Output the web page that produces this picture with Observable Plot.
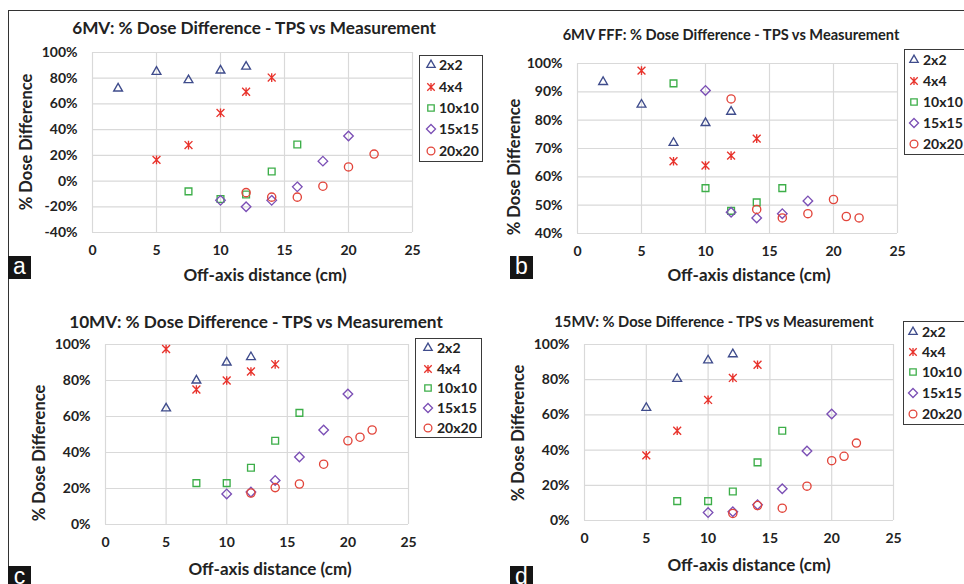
<!DOCTYPE html>
<html><head><meta charset="utf-8">
<script src="https://cdn.jsdelivr.net/npm/d3@7"></script>
<script src="https://cdn.jsdelivr.net/npm/@observablehq/plot@0.6"></script>
<style>
body{margin:0;background:#fff;}
#root{position:relative;width:964px;height:584px;overflow:hidden;background:#fff;font-family:Lato,"Open Sans",sans-serif;color:#222;}
.t{position:absolute;font-weight:700;white-space:nowrap;line-height:1;transform:translate(-50%,-50%);}
.yt{position:absolute;font-weight:700;white-space:nowrap;line-height:1;transform:translate(-50%,-50%) rotate(-90deg);}
.lab{position:absolute;width:23px;height:23px;background:#151515;color:#fff;font-family:"Liberation Sans",Arial,sans-serif;font-size:23px;line-height:21px;text-align:center;}
.leg{position:absolute;border:1.5px solid #3a3a3a;box-sizing:border-box;}
.lrow{position:absolute;font-weight:700;white-space:nowrap;line-height:1;transform:translateY(-50%);}
svg.plt{position:absolute;}
</style></head>
<body><div id="root"></div>
<script>
// ---------- data ----------
const seriesNames = ["2x2", "4x4", "10x10", "15x15", "20x20"];
const seriesColors = ["#3f4c8c", "#e8322b", "#3dae49", "#7b4fb5", "#e2453b"];
const xTicks = [0, 5, 10, 15, 20, 25];

const titleA = "6MV: % Dose Difference - TPS vs Measurement";
const titleB = "6MV FFF: % Dose Difference - TPS vs Measurement";
const titleC = "10MV: % Dose Difference - TPS vs Measurement";
const titleD = "15MV: % Dose Difference - TPS vs Measurement";
const xTitle = "Off-axis distance (cm)";
const yTitle = "% Dose Difference";

const yTicksA = [-40, -20, 0, 20, 40, 60, 80, 100];
const yTicksB = [40, 50, 60, 70, 80, 90, 100];
const yTicksC = [0, 20, 40, 60, 80, 100];
const yTicksD = [0, 20, 40, 60, 80, 100];

// Panel a: 6MV  ([off-axis cm, % diff])
const a2x2   = [[2,72],[5,85],[7.5,78.5],[10,86],[12,89]];
const a4x4   = [[5,16.5],[7.5,28],[10,53],[12,69.5],[14,80.5]];
const a10x10 = [[7.5,-8],[10,-14],[12,-10.5],[14,7.5],[16,28.5]];
const a15x15 = [[10,-15],[12,-20],[14,-15],[16,-4.5],[18,15.5],[20,35]];
const a20x20 = [[12,-9],[14,-12.5],[16,-12.5],[18,-4],[20,11],[22,21]];

// Panel b: 6MV FFF
const b2x2   = [[2,93.5],[5,85.5],[7.5,72],[10,79],[12,83]];
const b4x4   = [[5,97.5],[7.5,65.5],[10,64],[12,67.5],[14,73.5]];
const b10x10 = [[7.5,93],[10,56],[12,48],[14,51],[16,56]];
const b15x15 = [[10,90.5],[12,47.5],[14,45.5],[16,47],[18,51.5]];
const b20x20 = [[12,87.5],[14,48.5],[16,45.5],[18,47],[20,52],[21,46],[22,45.5]];

// Panel c: 10MV
const c2x2   = [[5,64.5],[7.5,80],[10,90],[12,93]];
const c4x4   = [[5,97.5],[7.5,75],[10,80],[12,85],[14,89]];
const c10x10 = [[7.5,23],[10,23],[12,31.5],[14,46.5],[16,62]];
const c15x15 = [[10,17],[12,18],[14,24.5],[16,37.5],[18,52.5],[20,72.5]];
const c20x20 = [[12,17.5],[14,20.5],[16,22.5],[18,33.5],[20,46.5],[21,48.5],[22,52.5]];

// Panel d: 15MV
const d2x2   = [[5,64],[7.5,80.5],[10,91],[12,94.5]];
const d4x4   = [[5,37],[7.5,51],[10,68.5],[12,81],[14,88.5]];
const d10x10 = [[7.5,11],[10,11],[12,16.5],[14,33],[16,51]];
const d15x15 = [[10,4.5],[12,5],[14,9],[16,18],[18,39.5],[20,60.5]];
const d20x20 = [[12,4],[14,8.5],[16,7],[18,19.5],[20,34],[21,36.5],[22,44]];

// ---------- symbols ----------
const starSymbol = {
  draw(ctx, size) {
    const r = Math.sqrt(size) * 0.6;
    ctx.moveTo(-r, -r); ctx.lineTo(r, r);
    ctx.moveTo(-r, r); ctx.lineTo(r, -r);
    ctx.moveTo(0, -r * 1.1); ctx.lineTo(0, r * 1.1);
  }
};
const symbols = [d3.symbolTriangle2, starSymbol, d3.symbolSquare2, d3.symbolDiamond2, d3.symbolCircle];
const radii = [4.2, 3.7, 4.3, 4.3, 4.1];

const root = document.getElementById("root");

// outer frame
const fr = document.createElement("div");
fr.style.cssText = "position:absolute;left:8px;top:10px;width:1000px;height:600px;border-left:1.5px solid #333;border-top:1.5px solid #333;";
root.appendChild(fr);

function addDiv(cls, text, css) {
  const d = document.createElement("div");
  d.className = cls; d.textContent = text; d.style.cssText = css;
  root.appendChild(d); return d;
}

function panel(cfg) {
  const marks = [
    Plot.gridX(xTicks, {stroke: "#d9d9d9", strokeOpacity: 1, strokeWidth: 1.2}),
    Plot.gridY(cfg.yTicks, {stroke: "#d9d9d9", strokeOpacity: 1, strokeWidth: 1.2}),
    Plot.axisX(xTicks, {tickSize: 0, tickPadding: 13, label: null}),
    Plot.axisY(cfg.yTicks, {tickSize: 0, tickPadding: 15, label: null, tickFormat: d => d + "%"})
  ];
  cfg.series.forEach((data, i) => {
    marks.push(Plot.dot(data, {
      x: d => d[0], y: d => d[1],
      symbol: () => symbols[i],
      r: radii[i], stroke: seriesColors[i], fill: "none", strokeWidth: 1.35
    }));
  });
  const svg = Plot.plot({
    width: cfg.w, height: cfg.h,
    marginLeft: cfg.ml, marginRight: cfg.w - cfg.pr, marginTop: cfg.pt, marginBottom: cfg.h - cfg.pb,
    x: {domain: [0, 25]},
    y: {domain: cfg.yDomain},
    symbol: {type: "identity"},
    marks,
    style: {fontFamily: "Lato, 'Open Sans', sans-serif", fontSize: "14px", fontWeight: "700", color: "#222", background: "transparent", overflow: "visible"}
  });
  svg.classList.add("plt");
  svg.style.left = cfg.left + "px";
  svg.style.top = cfg.top + "px";
  root.appendChild(svg);

  addDiv("t", cfg.title, `left:${cfg.tx}px;top:${cfg.ty}px;font-size:${cfg.tfs}px;`);
  addDiv("t", xTitle, `left:${cfg.xx}px;top:${cfg.xy}px;font-size:17px;`);
  addDiv("yt", yTitle, `left:${cfg.yx}px;top:${cfg.yy}px;font-size:16.5px;`);
  addDiv("lab", cfg.label, `left:${cfg.lx}px;top:${cfg.ly}px;`);

  const L = cfg.leg;
  addDiv("leg", "", `left:${L.x0}px;top:${L.y0}px;width:${L.x1 - L.x0}px;height:${L.y1 - L.y0}px;`);
  seriesNames.forEach((name, i) => {
    const cy = L.rows[i];
    addDiv("lrow", name, `left:${L.tx}px;top:${cy}px;font-size:14px;`);
    const s = document.createElementNS("http://www.w3.org/2000/svg", "svg");
    s.setAttribute("width", 14); s.setAttribute("height", 14);
    s.style.cssText = `position:absolute;left:${L.sx - 7}px;top:${cy - 7}px;overflow:visible;`;
    const p = document.createElementNS("http://www.w3.org/2000/svg", "path");
    p.setAttribute("d", d3.symbol(symbols[i], Math.PI * (radii[i] * 0.95) ** 2)());
    p.setAttribute("transform", "translate(7,7)");
    p.setAttribute("fill", "none");
    p.setAttribute("stroke", seriesColors[i]);
    p.setAttribute("stroke-width", 1.3);
    s.appendChild(p);
    root.appendChild(s);
  });
}

panel({left: 0, top: 0, w: 480, h: 290, ml: 92, pr: 412, pt: 52, pb: 232,
  yDomain: [-40, 100], yTicks: yTicksA, series: [a2x2, a4x4, a10x10, a15x15, a20x20],
  title: titleA, tx: 254, ty: 28, tfs: 17.2, xx: 265, xy: 274, yx: 26, yy: 142, label: "a", lx: 8, ly: 256,
  leg: {x0: 419, y0: 55, x1: 483, y1: 162, rows: [65, 87, 108, 129, 151], sx: 431, tx: 439}});

panel({left: 480, top: 0, w: 484, h: 290, ml: 97, pr: 417, pt: 63, pb: 233,
  yDomain: [40, 100], yTicks: yTicksB, series: [b2x2, b4x4, b10x10, b15x15, b20x20],
  title: titleB, tx: 731, ty: 35, tfs: 14.6, xx: 749, xy: 274, yx: 514, yy: 167, label: "b", lx: 510, ly: 256,
  leg: {x0: 904, y0: 49, x1: 966, y1: 155, rows: [60, 81, 102, 123, 144], sx: 914, tx: 923}});

panel({left: 0, top: 290, w: 480, h: 294, ml: 105, pr: 408, pt: 54, pb: 234,
  yDomain: [0, 100], yTicks: yTicksC, series: [c2x2, c4x4, c10x10, c15x15, c20x20],
  title: titleC, tx: 256, ty: 322, tfs: 17.2, xx: 270, xy: 568, yx: 39, yy: 453, label: "c", lx: 8, ly: 566,
  leg: {x0: 415, y0: 338, x1: 482, y1: 438, rows: [348, 369, 388, 408, 428], sx: 428, tx: 437}});

panel({left: 480, top: 290, w: 484, h: 294, ml: 104, pr: 413, pt: 54, pb: 230,
  yDomain: [0, 100], yTicks: yTicksD, series: [d2x2, d4x4, d10x10, d15x15, d20x20],
  title: titleD, tx: 714, ty: 321, tfs: 14.7, xx: 749, xy: 564, yx: 518, yy: 433, label: "d", lx: 510, ly: 566,
  leg: {x0: 903, y0: 321, x1: 966, y1: 425, rows: [332, 352, 372, 393, 414], sx: 913, tx: 922}});
</script>
</body></html>
